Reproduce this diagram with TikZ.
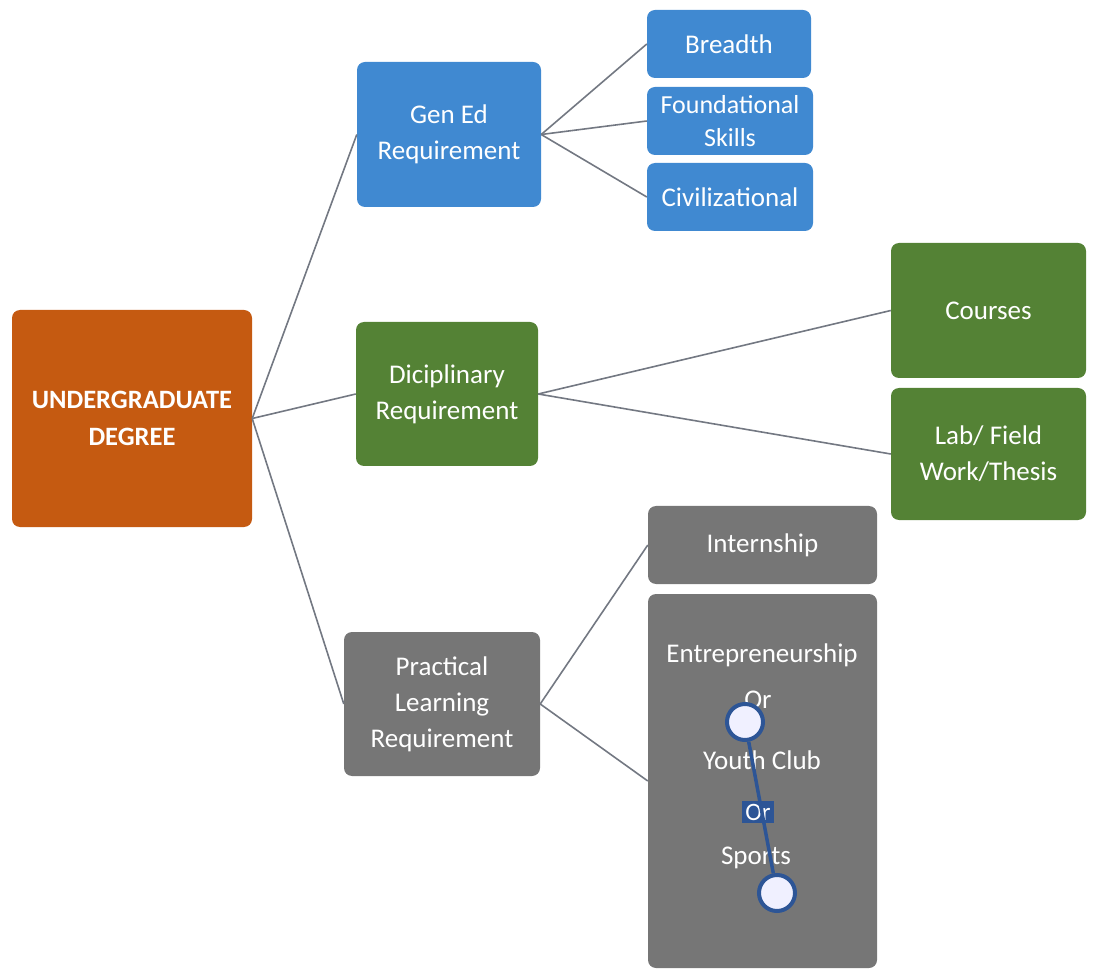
\documentclass[tikz,border=0pt]{standalone}
\usepackage{fontspec}
\setmainfont{Carlito}
\definecolor{degorange}{RGB}{197,90,17}
\definecolor{genblue}{RGB}{64,137,209}
\definecolor{discgreen}{RGB}{84,130,53}
\definecolor{pracgray}{RGB}{118,118,118}
\definecolor{linkgray}{RGB}{115,120,130}
\definecolor{handleblue}{RGB}{45,85,150}
\usetikzlibrary{positioning}
\tikzset{
  box/.style={rounded corners=8pt, text=white, align=center, inner sep=0pt,
    font=\fontsize{27}{36}\selectfont},
  link/.style={draw=linkgray, line width=1.6pt},
  handle/.style={circle, draw=handleblue, line width=4pt, fill=blue!6,
    minimum size=36pt, inner sep=0pt},
}

\begin{document}
\begin{tikzpicture}[x=1pt, y=-1pt]
  \useasboundingbox (0,0) rectangle (1093,973);

  % root
  \node [box, fill=degorange, minimum width=240pt, minimum height=217pt,
    font=\fontsize{26.5}{37}\selectfont\bfseries] (degree) at (132,418.5) {UNDERGRADUATE\\DEGREE};

  % second level
  \node [box, fill=genblue, minimum width=184pt, minimum height=145pt] (gened) at (449,134.5) {Gen Ed\\Requirement};
  \node [box, fill=discgreen, minimum width=182pt, minimum height=144pt] (disc) at (447,394) {Diciplinary\\Requirement};
  \node [box, fill=pracgray, minimum width=196pt, minimum height=144pt] (prac) at (442,704) {Practical\\Learning\\Requirement};

  % gen ed leaves
  \node [box, fill=genblue, minimum width=164pt, minimum height=68pt] (breadth) at (729,44) {Breadth};
  \node [box, fill=genblue, minimum width=166pt, minimum height=68pt,
    font=\fontsize{26}{33}\selectfont] (found) at (730,121) {Foundational\\Skills};
  \node [box, fill=genblue, minimum width=166pt, minimum height=68pt] (civil) at (730,197) {Civilizational};

  % disciplinary leaves
  \node [box, fill=discgreen, minimum width=195pt, minimum height=135pt] (courses) at (988.5,310.5) {Courses};
  \node [box, fill=discgreen, minimum width=195pt, minimum height=132pt] (lab) at (988.5,454) {Lab/ Field\\Work/Thesis};

  % practical leaves
  \node [box, fill=pracgray, minimum width=229pt, minimum height=78pt] (intern) at (762.5,545) {Internship};
  \node [box, fill=pracgray, minimum width=229pt, minimum height=374pt] (entre) at (762.5,781) {};
  \node [box] (entretxt) at (762,655) {Entrepreneurship};
  \node [box] (or1) at (758,700) {Or};
  \node [box] (youth) at (762,760) {Youth Club};
  \node [box, fill=handleblue, rounded corners=0pt, inner sep=3pt,
    font=\fontsize{25}{27}\selectfont] (or2) at (758,812) {Or};
  \node [box] (sports) at (756,858) {Sports};

  % selection handles
  \node [handle] (h1) at (745,722) {};
  \node [handle] (h2) at (777,893) {};
  \draw [handleblue, line width=3.5pt] (h1) -- (h2);

  % links
  \foreach \t in {gened, disc, prac}
    \draw [link] (degree.east) -- (\t.west);
  \foreach \t in {breadth, found, civil}
    \draw [link] (gened.east) -- (\t.west);
  \foreach \t in {courses, lab}
    \draw [link] (disc.east) -- (\t.west);
  \foreach \t in {intern, entre}
    \draw [link] (prac.east) -- (\t.west);
\end{tikzpicture}
\end{document}
